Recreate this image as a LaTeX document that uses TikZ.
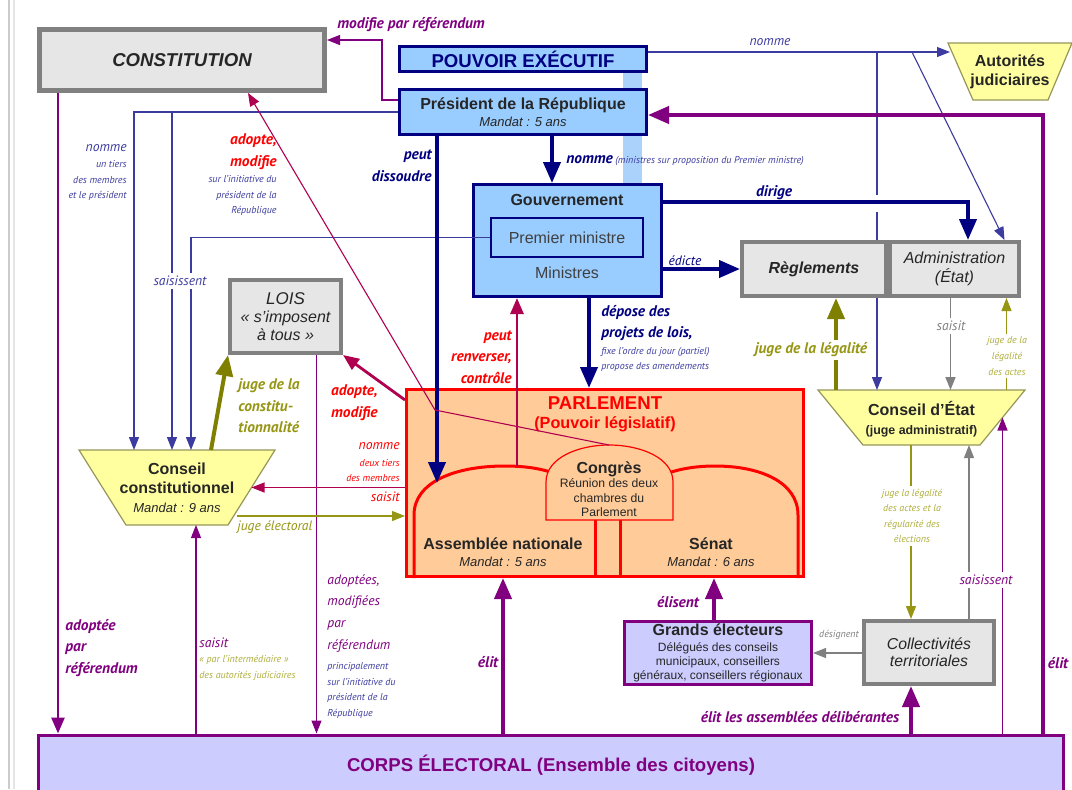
\documentclass[tikz,border=0pt]{standalone}
\usepackage{fontspec}
\setmainfont{Liberation Sans}
\newfontfamily\lblfamily{PT Sans}
\usepackage{tikz}
\usetikzlibrary{arrows.meta,positioning}

\definecolor{navyblue}{RGB}{0,0,128}
\definecolor{lineblue}{RGB}{60,60,160}
\definecolor{purp}{RGB}{128,0,128}
\definecolor{crim}{RGB}{176,0,80}
\definecolor{olivec}{RGB}{128,128,0}
\definecolor{olivetxt}{RGB}{150,150,20}
\definecolor{olivelight}{RGB}{175,175,60}
\definecolor{boxblue}{RGB}{153,204,255}
\definecolor{barblue}{RGB}{170,210,250}
\definecolor{boxgray}{RGB}{230,230,230}
\definecolor{bordergray}{RGB}{128,128,128}
\definecolor{lavender}{RGB}{204,204,255}
\definecolor{peach}{RGB}{255,204,153}
\definecolor{paleyellow}{RGB}{255,255,160}
\definecolor{judgeline}{RGB}{150,150,90}
\definecolor{txtred}{RGB}{255,0,0}

\newcommand{\boxfont}{\fontsize{8}{9.5}\selectfont}
\newcommand{\capsfont}{\fontsize{9.3}{10}\selectfont\bfseries}
\newcommand{\mandatfont}{\fontsize{6.5}{8}\selectfont\itshape}
\newcommand{\grandsfont}{\fontsize{6}{6.8}\selectfont}
\newcommand{\lblfont}{\lblfamily\itshape\fontsize{6.8}{10.8}\selectfont}
\newcommand{\lblbfont}{\lblfamily\itshape\bfseries\fontsize{7.7}{10.8}\selectfont}
\newcommand{\lblsmall}{\lblfamily\itshape\fontsize{5}{7.8}\selectfont}

\begin{document}
\begin{tikzpicture}[x=0.5pt, y=-0.5pt,
  thickarrow/.style={line width=2pt, -{Triangle[length=10.5pt,width=8.5pt]}},
  medarrow/.style={line width=1.4pt, -{Triangle[length=8pt,width=6.5pt]}},
  thinarrow/.style={line width=0.55pt, -{Triangle[length=6.5pt,width=5pt]}},
  thinline/.style={line width=0.55pt},
  graybox/.style={draw=bordergray, fill=boxgray, line width=2pt, inner sep=0pt,
    align=center, font=\boxfont, text=black!85},
  bluebox/.style={draw=navyblue, fill=boxblue, line width=1.5pt, inner sep=0pt,
    align=center, font=\boxfont, text=black!85},
  lavbox/.style={draw=purp, fill=lavender, line width=1.5pt, inner sep=0pt,
    align=center, font=\boxfont, text=black!85},
  judge/.style={draw=judgeline, fill=paleyellow, line width=0.6pt},
  judgetext/.style={align=center, font=\boxfont, text=black!85, inner sep=0pt},
  lbl/.style={font=\lblfont, inner sep=0pt},
  lblb/.style={font=\lblbfont, inner sep=0pt},
  lbls/.style={font=\lblsmall, inner sep=0pt},
  cut/.style={fill=white, inner sep=1.5pt}]

  \useasboundingbox (0,0) rectangle (1072,789);
  \fill[white] (0,0) rectangle (1072,789);
  % page edge of the screenshot
  \draw[black!20, line width=1pt] (9,0) -- (9,789);
  \draw[black!10, line width=1pt] (14,0) -- (14,789);

  % executive link bar (behind the boxes)
  \fill[barblue] (623,73) rectangle (642,183);

  % --- boxes ---
  \node[graybox, line width=2.5pt, minimum width=142.5pt, minimum height=30.5pt,
    font=\capsfont\itshape] (constitution) at (182,60) {CONSTITUTION};
  \node[bluebox, minimum width=123.5pt, minimum height=12.5pt, font=\capsfont,
    text=navyblue] (pouvoir) at (523,59) {POUVOIR EXÉCUTIF};
  \node[bluebox, minimum width=123.5pt, minimum height=22.5pt] (president) at (523,112)
    {\textbf{Président de la République}\\[-1pt]{\mandatfont Mandat : 5 ans}};

  \node[bluebox, minimum width=94pt, minimum height=56pt] (gouv) at (567.5,240.5) {};
  \node[font=\boxfont\bfseries, text=black!85] (gouvtitle) at (567,200) {Gouvernement};
  \node[draw=navyblue, line width=0.6pt, minimum width=76pt, minimum height=19.5pt,
    inner sep=0pt, font=\boxfont, text=black!75] (pm) at (567,237.5) {Premier ministre};
  \node[font=\boxfont, text=black!75] (ministres) at (567,273) {Ministres};

  \node[graybox, minimum width=72pt, minimum height=27pt,
    font=\boxfont\bfseries\itshape] (regl) at (814,269) {Règlements};
  \node[graybox, minimum width=64.5pt, minimum height=27pt,
    font=\boxfont\itshape] (admin) at (954.5,269) {Administration\\(État)};

  % judges: inverted trapezia
  \draw[judge] (948,43) -- (1072,43) -- (1048,100) -- (973,100) -- cycle;
  \node[judgetext, font=\boxfont\bfseries] (auto) at (1010,71.5) {Autorités\\judiciaires};
  \draw[judge] (79,450) -- (275,450) -- (228,525) -- (126,525) -- cycle;
  \coordinate (ccN) at (177,450);
  \coordinate (ccS) at (177,525);
  \coordinate (ccE) at (251.5,487.5);
  \node[judgetext] (cc) at (177,488)
    {\textbf{Conseil}\\\textbf{constitutionnel}\\{\mandatfont Mandat : 9 ans}};
  \draw[judge] (818,390) -- (1025,390) -- (980,445) -- (863,445) -- cycle;
  \coordinate (ceN) at (921.5,390);
  \coordinate (ceS) at (921.5,445);
  \coordinate (ceE) at (1002.5,417.5);
  \node[judgetext] (ce) at (921.5,419)
    {\textbf{Conseil d’État}\\{\fontsize{6.2}{7.5}\selectfont\bfseries (juge administratif)}};

  \node[graybox, minimum width=55.5pt, minimum height=36.5pt,
    font=\fontsize{8}{9}\selectfont\itshape] (lois) at (285.5,316.5)
    {{\fontsize{8.5}{9}\selectfont LOIS}\\«~s’imposent\\à tous~»};

  % Parlement
  \node[draw=txtred, fill=peach, line width=1.5pt, minimum width=198.5pt,
    minimum height=93.5pt, inner sep=0pt] (parl) at (605,483) {};
  \node[font=\fontsize{9.3}{9.5}\selectfont\bfseries, text=txtred, align=center]
    (parltitle) at (605,414) {PARLEMENT\\{\fontsize{8.1}{9.5}\selectfont (Pouvoir législatif)}};
  % chambers
  \draw[txtred, line width=1.5pt] (414,578) -- (414,515)
    .. controls (414,482) and (455,466) .. (505,466)
    .. controls (530,466) and (548,470) .. (560,476);
  \draw[txtred, line width=1.5pt] (595,520) -- (595,578);
  \draw[txtred, line width=1.5pt] (798,578) -- (798,515)
    .. controls (798,482) and (760,466) .. (715,466)
    .. controls (690,466) and (670,471) .. (660,477);
  \draw[txtred, line width=1.5pt] (620,520) -- (620,578);
  \draw[txtred, fill=peach, line width=0.6pt] (546,520) -- (546,482)
    .. controls (546,458) and (578,445) .. (609,445)
    .. controls (641,445) and (673,458) .. (673,482) -- (673,520) -- cycle;
  \node[align=center, font=\fontsize{6.1}{7.2}\selectfont, text=black!85] (congres)
    at (609,489) {{\boxfont\bfseries Congrès}\\Réunion des deux\\chambres du\\Parlement};
  \node[align=center, font=\boxfont, text=black!85] (an) at (503,552)
    {\textbf{Assemblée nationale}\\[-1pt]{\mandatfont Mandat : 5 ans}};
  \node[align=center, font=\boxfont, text=black!85] (senat) at (711,552)
    {\textbf{Sénat}\\[-1pt]{\mandatfont Mandat : 6 ans}};

  \node[lavbox, minimum width=93.5pt, minimum height=31.5pt] (grands) at (718,653)
    {\textbf{Grands électeurs}\\[-1.5pt]{\grandsfont Délégués des conseils}\\[-2.5pt]
     {\grandsfont municipaux, conseillers}\\[-2.5pt]{\grandsfont généraux, conseillers régionaux}};
  \node[graybox, minimum width=65pt, minimum height=31.5pt,
    font=\fontsize{7.9}{8.5}\selectfont\itshape] (coll) at (929,652.5)
    {Collectivités\\territoriales};
  \node[lavbox, minimum width=512.5pt, minimum height=30pt, font=\capsfont,
    text=purp] (corps) at (551,765) {CORPS ÉLECTORAL (Ensemble des citoyens)};

  % --- corner points of the connectors ---
  \coordinate (nomx) at (134,113);
  \coordinate (saisa) at (172,112);
  \coordinate (saisb) at (191,240);
  \coordinate (dissx) at (437,483);
  \coordinate (nomg) at (552,136);
  \coordinate (dir) at (968,202);
  \coordinate (nomj) at (950,52);
  \coordinate (vx) at (877,52);
  \coordinate (vxa) at (877,195);
  \coordinate (vxb) at (877,212);
  \coordinate (diag) at (912,52);
  \coordinate (admtop) at ([xshift=25pt]admin.north);
  \coordinate (elp) at (1043,115);
  \coordinate (refb) at (382,40);
  \coordinate (adr) at (58,93);
  \coordinate (cgtop) at (609,445);
  \coordinate (cgbend) at (435,410);
  \coordinate (antop) at (517,466);
  \coordinate (dep) at (589,300);
  \coordinate (jel) at (237,516);
  \coordinate (lref) at ([xshift=15.5pt]lois.south);
  \coordinate (csai) at (196,600);
  \coordinate (gsen) at ([xshift=-2pt]grands.north);
  \coordinate (ecl) at ([xshift=-9pt]coll.south);
  \coordinate (csa) at ([xshift=20pt]coll.north);
  \coordinate (jla) at ([xshift=26pt]admin.south);
  \coordinate (jlg) at ([xshift=11pt]regl.south);
  \coordinate (sadm) at ([xshift=-2pt]admin.south);

  % --- executive ---
  \draw[thinarrow, lineblue] (president.west) -| (nomx |- ccN);
  \draw[thinarrow, lineblue] (saisa) -- (saisa |- ccN);
  \draw[thinarrow, lineblue] (pm.west) -| (saisb |- ccN);
  \draw[thickarrow, navyblue] (dissx |- president.south) -- (dissx);
  \draw[thickarrow, navyblue] (nomg |- president.south) -- (nomg |- gouv.north);
  \draw[thickarrow, navyblue] (dir -| gouv.east) -- (dir) -- (dir |- admin.north);
  \draw[thickarrow, navyblue] (regl.west -| gouv.east) -- (regl.west);
  \draw[thickarrow, navyblue] (dep |- gouv.south) -- (dep |- parl.north);
  \draw[thinarrow, lineblue] (nomj -| pouvoir.east) -- (nomj);
  \draw[thinline, lineblue] (vx) -- (vxa);
  \draw[thinline, lineblue] (vxb) -- (vxb |- regl.north);
  \draw[thinarrow, lineblue] (vx |- regl.south) -- (vx |- ceN);
  \draw[thinarrow, lineblue] (diag) -- (admtop);

  % --- constitution and referendum ---
  \draw[thinarrow, purp] ([yshift=6pt]president.west) -| (refb) -- (refb -| constitution.east);
  \draw[medarrow, purp] (adr |- constitution.south) -- (adr |- corps.north);
  \draw[thinarrow, crim] (cgtop) -- (cgbend) -- ([xshift=33pt]constitution.south);
  \draw[thinarrow, purp] (lref) -- (lref |- corps.north);

  % --- parliament ---
  \draw[medarrow, crim] (antop) -- (antop |- gouv.south);
  \draw[medarrow, crim] ([yshift=-6pt]parl.north west) -- (lois.south east);
  \draw[thinarrow, crim] (ccE -| parl.west) -- (ccE);
  \draw[thinarrow, olivetxt] (jel) -- (jel -| parl.west);
  \draw[thickarrow, olivec] ([xshift=17pt]ccN) -- (lois.south west);
  \draw[thinarrow, purp] (csai |- corps.north) -- (csai |- ccS);

  % --- elections ---
  \draw[thickarrow, purp] (elp |- corps.north) -- (elp) -- (elp -| president.east);
  \draw[thickarrow, purp] (an |- corps.north) -- (an |- parl.south);
  \draw[thickarrow, purp] (gsen) -- (gsen |- parl.south);
  \draw[thickarrow, purp] (ecl |- corps.north) -- (ecl);
  \draw[thinarrow, bordergray] (grands.east -| coll.west) -- (grands.east);

  % --- administrative justice ---
  \draw[thinarrow, olivetxt] (ecl |- ceS) -- (ecl |- coll.north);
  \draw[thinarrow, bordergray] (csa) -- (csa |- ceS);
  \draw[thinarrow, purp] (ceE |- corps.north) -- (ceE);
  \draw[thinarrow, olivetxt] (jla |- ceN) -- (jla);
  \draw[thickarrow, olivec] (jlg |- ceN) -- (jlg);
  \draw[thinarrow, bordergray, line width=0.8pt] (sadm) -- (sadm |- ceN);

  % --- labels ---
  \node[lblb, text=purp, anchor=west] (lrefmod) at (337,25) {modifie par référendum};
  \node[lbl, text=lineblue] (lnomj) at (770,42) {nomme};
  \node[lblb, text=navyblue, align=right, anchor=east] (ldiss) at (432,166) {peut\\dissoudre};
  \node[lblb, text=navyblue, anchor=base west] (lnomg) at (566,163) {nomme};
  \node[lbls, text=lineblue, anchor=base west] (lnomgs) at (lnomg.base east)
    {\,(ministres sur proposition du Premier ministre)};
  \node[lblb, text=navyblue] (ldir) at (774,193) {dirige};
  \node[lbl, text=navyblue] (ledi) at (685,261) {édicte};

  \node[lbl, text=lineblue, anchor=east] (lnomcc) at (127,148) {nomme};
  \node[lbls, text=lineblue, align=right, anchor=north east] (lnomccs) at (127,160)
    {un tiers\\des membres\\et le président};
  \node[lblb, text=txtred, align=right, anchor=east] (ladc) at (277,152) {adopte,\\modifie};
  \node[lbls, text=lineblue, align=right, anchor=north east] (ladcs) at (277,175)
    {sur l’initiative du\\président de la\\République};
  \node[lbl, text=lineblue, cut] (lsaisa) at (180,281) {saisissent};
  \node[lblb, text=olivetxt, align=left, anchor=west] (ljcons) at (238,406)
    {juge de la\\constitu-\\tionnalité};
  \node[lblb, text=txtred, align=right, anchor=east] (ladl) at (378,403) {adopte,\\modifie};
  \node[lbl, text=txtred, anchor=east] (lnomp) at (400,446) {nomme};
  \node[lbls, text=txtred, align=right, anchor=east] (lnomps) at (400,470.5)
    {deux tiers\\des membres};
  \node[lbl, text=txtred, anchor=east] (lsaisp) at (400,497) {saisit};
  \node[lbl, text=olivetxt, anchor=west] (ljel) at (237,527) {juge électoral};
  \node[lblb, text=txtred, align=right, anchor=east] (lrenv) at (512,357)
    {peut\\renverser,\\contrôle};
  \node[lblb, text=navyblue, align=left, anchor=west] (ldep) at (601,323)
    {dépose des\\projets de lois,};
  \node[lbls, text=lineblue, align=left, anchor=west] (ldeps) at (601,359.5)
    {fixe l’ordre du jour (partiel)\\propose des amendements};

  \node[lblb, text=olivetxt, cut] (ljleg) at (811,350) {juge de la légalité};
  \node[lbl, text=bordergray, cut] (lsadm) at (951,326) {saisit};
  \node[lbls, text=olivelight, align=center, cut] (ljla) at (1007,356)
    {juge de la\\légalité\\des actes};
  \node[lbls, text=olivelight, align=center, cut] (ljce) at (912,516)
    {juge la légalité\\des actes et la\\régularité des\\élections};
  \node[lbl, text=purp, cut] (lsaisce) at (986,580) {saisissent};
  \node[lblb, text=purp] (lelp) at (1058,663) {élit};

  \node[lblb, text=purp, align=left, anchor=west] (ladref) at (65,648)
    {adoptée\\par\\référendum};
  \node[lbl, text=purp, anchor=west] (lsaiscc) at (199,643) {saisit};
  \node[lbls, text=olivelight, align=left, anchor=north west] (lsaisccs) at (199,655)
    {«~par l’intermédiaire~»\\des autorités judiciaires};
  \node[lbl, text=purp, align=left, anchor=north west] (ladrefl) at (327,574)
    {adoptées,\\modifiées\\par\\référendum};
  \node[lbls, text=lineblue, align=left, anchor=north west] (ladrefls) at (327,662)
    {principalement\\sur l’initiative du\\président de la\\République};
  \node[lblb, text=purp] (lelan) at (488,662) {élit};
  \node[lblb, text=purp] (lelis) at (678,602) {élisent};
  \node[lblb, text=purp] (lelcol) at (800,717) {élit les assemblées délibérantes};
  \node[lbls, text=bordergray] (ldesi) at (839,635) {désignent};
\end{tikzpicture}
\end{document}
